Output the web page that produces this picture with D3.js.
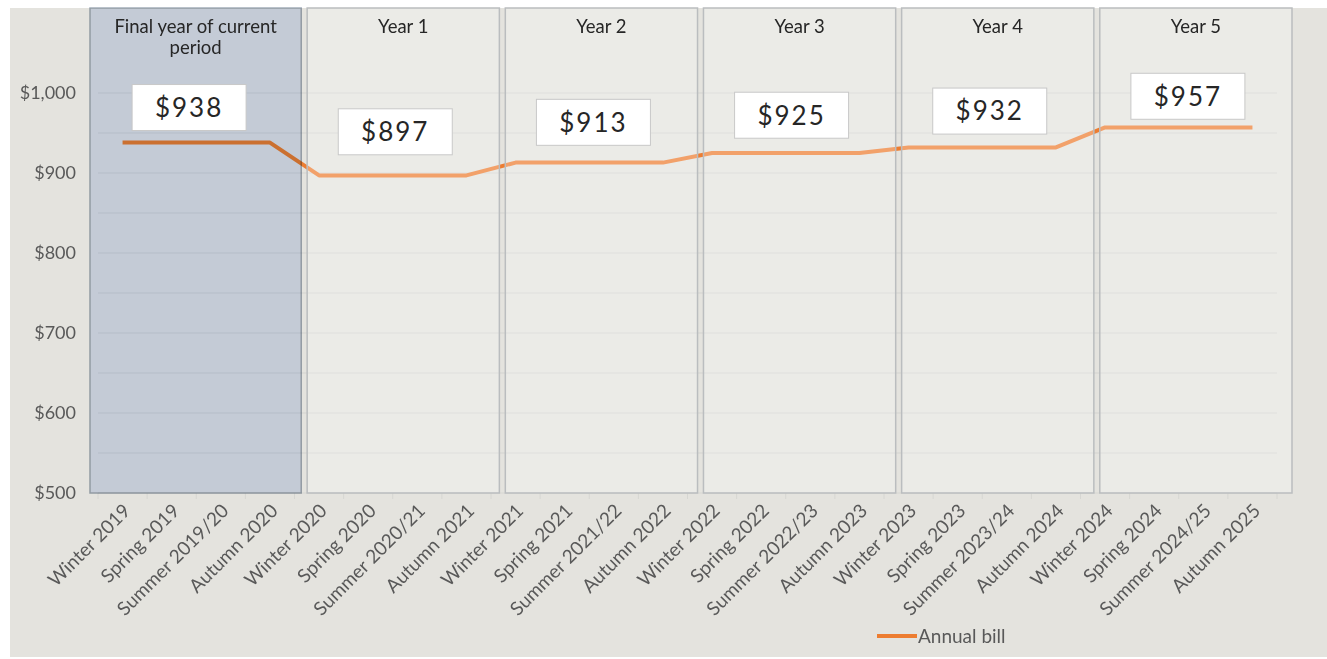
<!DOCTYPE html>
<html>
<head>
<meta charset="utf-8">
<script src="https://cdn.jsdelivr.net/npm/d3@7"></script>
<style>
  body { margin: 0; background: #fff; }
  text { font-family: Lato, "Open Sans", sans-serif; }
</style>
</head>
<body>
<div id="chart"></div>
<script>
/* Annual bill by season, with yearly panels */

const quarters = [
    "Winter 2019", "Spring 2019", "Summer 2019/20", "Autumn 2020",
    "Winter 2020", "Spring 2020", "Summer 2020/21", "Autumn 2021",
    "Winter 2021", "Spring 2021", "Summer 2021/22", "Autumn 2022",
    "Winter 2022", "Spring 2022", "Summer 2022/23", "Autumn 2023",
    "Winter 2023", "Spring 2023", "Summer 2023/24", "Autumn 2024",
    "Winter 2024", "Spring 2024", "Summer 2024/25", "Autumn 2025"
];
const bill = [
    938, 938, 938, 938,
    897, 897, 897, 897,
    913, 913, 913, 913,
    925, 925, 925, 925,
    932, 932, 932, 932,
    957, 957, 957, 957
];
const years = ["Final year of current period", "Year 1", "Year 2", "Year 3", "Year 4", "Year 5"];
const yearBill = [938, 897, 913, 925, 932, 957];
const yTicks = [500, 600, 700, 800, 900, 1000];
const gridTicks = [550, 600, 650, 700, 750, 800, 850, 900, 950, 1000];

const width = 1327,
      height = 659,
      margin = ({ top: 8, right: 0, bottom: 2, left: 10 });

const orange = "#ED7D31";

let svg = d3.select("#chart")
    .append("svg")
    .attr("width", width)
    .attr("height", height);

// chart area background
svg.append("rect")
    .attr("x", margin.left)
    .attr("y", margin.top)
    .attr("width", width - margin.left - margin.right)
    .attr("height", height - margin.top - margin.bottom)
    .attr("fill", "#e4e3de");

let x = d3.scaleBand()
    .domain(quarters)
    .range([98, 1277]);

let xYear = d3.scaleBand()
    .domain(years)
    .range([109, 1292])
    .paddingInner(0.03);

let y = d3.scaleLinear()
    .domain([500, 1100])
    .range([493, 13]);

const cx = d => x(d) + x.bandwidth() / 2;

// gridlines
svg.append("g")
    .selectAll("line")
    .data(gridTicks)
    .join("line")
    .attr("x1", x.range()[0])
    .attr("x2", x.range()[1])
    .attr("y1", d => y(d))
    .attr("y2", d => y(d))
    .attr("stroke", "#d3d3d0")
    .attr("stroke-width", 1);

// axis line and ticks
svg.append("line")
    .attr("x1", x.range()[0]).attr("x2", x.range()[1])
    .attr("y1", y(500)).attr("y2", y(500))
    .attr("stroke", "#d6d6d2");

svg.append("g")
    .selectAll("line")
    .data(quarters.concat(["end"]))
    .join("line")
    .attr("x1", (d, i) => x.range()[0] + i * x.step())
    .attr("x2", (d, i) => x.range()[0] + i * x.step())
    .attr("y1", y(500))
    .attr("y2", y(500) + 6)
    .attr("stroke", "#d6d6d2");

// the bill line
svg.append("path")
    .datum(bill)
    .attr("fill", "none")
    .attr("stroke", orange)
    .attr("stroke-width", 4)
    .attr("stroke-linejoin", "round")
    .attr("d", d3.line()
        .x((d, i) => cx(quarters[i]))
        .y(d => y(d)));

// year panels laid over the line
let panel = svg.selectAll(".panel")
    .data(years)
    .join("g")
    .attr("class", "panel");

panel.append("rect")
    .attr("x", (d, i) => i === 0 ? 90 : xYear(d))
    .attr("y", margin.top)
    .attr("width", (d, i) => i === 0 ? xYear(d) + xYear.bandwidth() - 90 : xYear.bandwidth())
    .attr("height", y(500) - margin.top)
    .attr("fill", (d, i) => i === 0 ? "#dbe4f6" : "rgba(255,255,255,0.28)")
    .style("mix-blend-mode", (d, i) => i === 0 ? "multiply" : "normal")
    .attr("stroke", (d, i) => i === 0 ? "#a4aebb" : "#babdbf")
    .attr("stroke-width", 1.5);

// panel titles
panel.append("text")
    .attr("x", (d, i) => i === 0 ? (90 + xYear(d) + xYear.bandwidth()) / 2 : xYear(d) + xYear.bandwidth() / 2)
    .attr("y", 33)
    .attr("text-anchor", "middle")
    .attr("font-size", 18.5)
    .attr("fill", "#262626")
    .each(function(d) {
        let t = d3.select(this);
        let parts = d === years[0] ? ["Final year of current", "period"] : [d];
        parts.forEach((p, k) => {
            t.append("tspan")
                .attr("x", t.attr("x"))
                .attr("dy", k === 0 ? 0 : 21)
                .text(p);
        });
    });

// value boxes
const boxW = 114, boxH = 46;
let box = svg.selectAll(".box")
    .data(years)
    .join("g")
    .attr("class", "box")
    .attr("transform", (d, i) => `translate(${xYear(d) + xYear.bandwidth() / 2 - 8 - (i === 0 ? 8 : 0)},${y(yearBill[i]) * 0.74 + 2})`);

box.append("rect")
    .attr("x", -boxW / 2)
    .attr("y", -boxH / 2)
    .attr("width", boxW)
    .attr("height", boxH)
    .attr("fill", "#ffffff")
    .attr("stroke", "#c8c8c8");

box.append("text")
    .attr("text-anchor", "middle")
    .attr("dy", "0.36em")
    .attr("font-size", 26)
    .attr("letter-spacing", 2)
    .attr("fill", "#262626")
    .text((d, i) => "$" + yearBill[i]);

// y axis labels
svg.append("g")
    .selectAll("text")
    .data(yTicks)
    .join("text")
    .attr("x", 76)
    .attr("y", d => y(d))
    .attr("dy", "0.35em")
    .attr("text-anchor", "end")
    .attr("font-size", 18)
    .attr("fill", "#595959")
    .text(d => d3.format("$,")(d));

// x axis labels, rotated
svg.append("g")
    .selectAll("text")
    .data(quarters)
    .join("text")
    .attr("transform", d => `translate(${cx(d) + 9},${y(500) + 19}) rotate(-45)`)
    .attr("text-anchor", "end")
    .attr("font-size", 19)
    .attr("fill", "#595959")
    .text(d => d);

// legend
svg.append("line")
    .attr("x1", 877).attr("x2", 917)
    .attr("y1", 636).attr("y2", 636)
    .attr("stroke", orange)
    .attr("stroke-width", 4);

svg.append("text")
    .attr("x", 918)
    .attr("y", 636)
    .attr("dy", "0.35em")
    .attr("font-size", 19)
    .attr("fill", "#595959")
    .text("Annual bill");
</script>
</body>
</html>
